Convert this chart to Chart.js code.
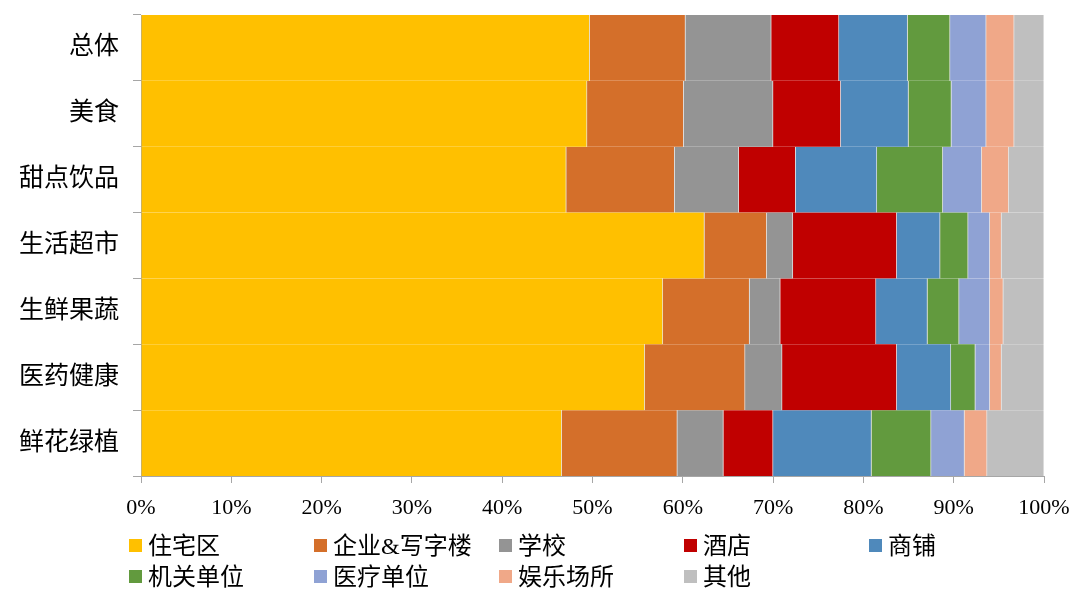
<!DOCTYPE html>
<html>
<head>
<meta charset="utf-8">
<script src="https://cdn.jsdelivr.net/npm/chart.js@4.4.0/dist/chart.umd.min.js"></script>
<style>
  body { margin: 0; background: #fff; }
  #wrap { position: relative; width: 1073px; height: 592px; }
  #legend { position: absolute; left: 0; top: 0; width: 1073px; height: 592px; pointer-events: none;
    font-family: 'Liberation Serif', 'Noto Sans CJK SC', serif; font-size: 24px; color: #000; }
  .item { position: absolute; white-space: nowrap; line-height: 28px; }
  .item span.box { display: inline-block; width: 13px; height: 13px; margin-right: 6px; vertical-align: 2px; }
</style>
</head>
<body>
<div id="wrap">
  <canvas id="mycanvas" width="1073" height="592"></canvas>
  <div id="legend"></div>
</div>
<script>
var categories = ['总体', '美食', '甜点饮品', '生活超市', '生鲜果蔬', '医药健康', '鲜花绿植'];
var seriesNames = ['住宅区', '企业&写字楼', '学校', '酒店', '商铺', '机关单位', '医疗单位', '娱乐场所', '其他'];
var xTicks = [0, 10, 20, 30, 40, 50, 60, 70, 80, 90, 100];

// share (%) per category
var zhuzhaiqu  = [49.7, 49.4, 47.1, 62.4, 57.8, 55.8, 46.6];
var qiye       = [10.6, 10.7, 12.0, 6.9, 9.6, 11.1, 12.8];
var xuexiao    = [9.5, 9.9, 7.1, 2.9, 3.4, 4.1, 5.1];
var jiudian    = [7.5, 7.5, 6.3, 11.5, 10.6, 12.7, 5.5];
var shangpu    = [7.6, 7.5, 9.0, 4.8, 5.7, 6.0, 10.9];
var jiguan     = [4.7, 4.75, 7.3, 3.1, 3.5, 2.7, 6.6];
var yiliao     = [4.0, 3.85, 4.3, 2.4, 3.4, 1.6, 3.7];
var yule       = [3.1, 3.1, 3.0, 1.3, 1.5, 1.3, 2.5];
var qita       = [3.3, 3.3, 3.9, 4.7, 4.5, 4.7, 6.3];

var seriesData = [zhuzhaiqu, qiye, xuexiao, jiudian, shangpu, jiguan, yiliao, yule, qita];
var colors = ['#FFC000', '#D46F2A', '#949494', '#C00000', '#4F89BB', '#629A3E', '#8FA2D4', '#F0A888', '#BFBFBF'];

var datasets = [];
for (var i in seriesNames) {
  datasets.push({
    label: seriesNames[i],
    data: seriesData[i],
    backgroundColor: colors[i],
    borderColor: 'rgba(200,200,200,0.4)',
    borderWidth: { top: 0, bottom: 0, left: 0, right: 1 },
    borderSkipped: false,
    barPercentage: 1,
    categoryPercentage: 1
  });
}

var fontFamily = "'Liberation Serif', 'Noto Sans CJK SC', serif";
Chart.defaults.font.family = fontFamily;
Chart.defaults.color = '#000';

var ctx = document.getElementById('mycanvas');
var barGraph = new Chart(ctx, {
  type: 'bar',
  data: { labels: categories, datasets: datasets },
  options: {
    indexAxis: 'y',
    responsive: false,
    animation: false,
    layout: { padding: { left: 0, right: 29, top: 15, bottom: 76 } },
    plugins: { legend: { display: false }, tooltip: { enabled: false } },
    scales: {
      x: {
        stacked: true,
        min: 0,
        max: 100,
        afterBuildTicks: function(scale) {
          scale.ticks = xTicks.map(function(v) { return { value: v }; });
        },
        afterFit: function(scale) {
          scale.height = 40;
          scale.paddingLeft = 0;
          scale.paddingRight = 0;
        },
        ticks: {
          font: { size: 22 },
          padding: 12,
          callback: function(v) { return v + '%'; }
        },
        grid: { drawOnChartArea: false, tickLength: 7, color: '#a6a6a6' },
        border: { color: '#a6a6a6' }
      },
      y: {
        stacked: true,
        afterFit: function(scale) {
          scale.width = 141;
          scale.paddingTop = 0;
          scale.paddingBottom = 0;
        },
        ticks: { font: { size: 25 }, padding: 14 },
        grid: { drawOnChartArea: false, tickLength: 8, offset: true, color: '#a6a6a6' },
        border: { color: '#a6a6a6' }
      }
    }
  }
});

// legend, two rows of fixed columns
var legend = document.getElementById('legend');
var colX = [129, 314, 499, 684, 869];
var rowY = [532, 563];
for (var j = 0; j < seriesNames.length; j++) {
  var div = document.createElement('div');
  div.className = 'item';
  div.style.left = colX[j % 5] + 'px';
  div.style.top = rowY[Math.floor(j / 5)] + 'px';
  div.innerHTML = '<span class="box" style="background:' + colors[j] + '"></span>';
  div.appendChild(document.createTextNode(seriesNames[j]));
  legend.appendChild(div);
}
</script>
</body>
</html>
